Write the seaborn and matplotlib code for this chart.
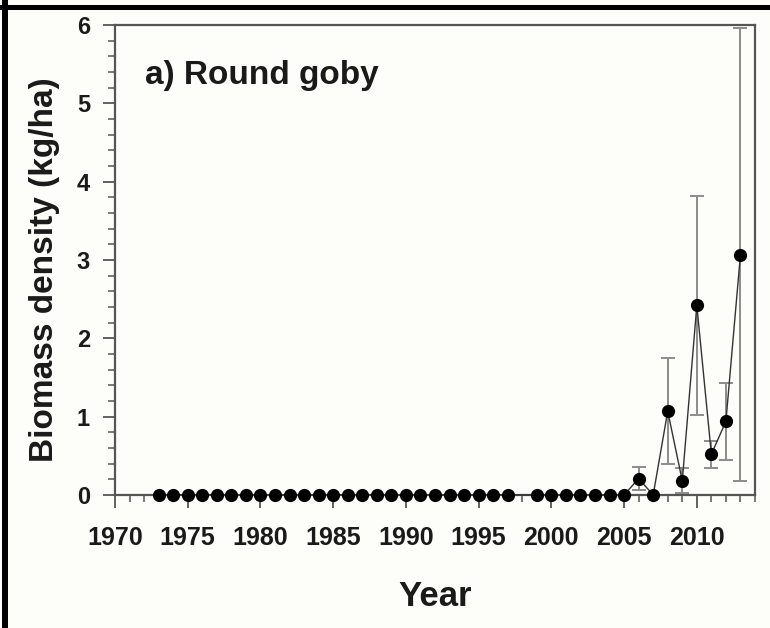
import matplotlib
matplotlib.use("Agg")
import matplotlib.pyplot as plt
from matplotlib.lines import Line2D
from matplotlib.ticker import MultipleLocator
import seaborn as sns
import pandas as pd

# survey years (1998 missing)
years = [1973, 1974, 1975, 1976, 1977, 1978, 1979, 1980, 1981, 1982,
         1983, 1984, 1985, 1986, 1987, 1988, 1989, 1990, 1991, 1992,
         1993, 1994, 1995, 1996, 1997,
         1999, 2000, 2001, 2002, 2003, 2004, 2005, 2006, 2007, 2008,
         2009, 2010, 2011, 2012, 2013]
# round goby biomass density, kg/ha
biomass = [0, 0, 0, 0, 0, 0, 0, 0, 0, 0,
           0, 0, 0, 0, 0, 0, 0, 0, 0, 0,
           0, 0, 0, 0, 0,
           0, 0, 0, 0, 0, 0, 0, 0.21, 0, 1.07,
           0.18, 2.42, 0.52, 0.94, 3.07]
# error bar half-widths
biomass_err = [0, 0, 0, 0, 0, 0, 0, 0, 0, 0,
               0, 0, 0, 0, 0, 0, 0, 0, 0, 0,
               0, 0, 0, 0, 0,
               0, 0, 0, 0, 0, 0, 0, 0.145, 0, 0.68,
               0.16, 1.40, 0.17, 0.49, 2.89]

panel_label = "a) Round goby"
x_label = "Year"
y_label = "Biomass density (kg/ha)"


def main():
    sns.set_style("ticks")
    plt.rcParams['font.family'] = ['Liberation Sans', 'DejaVu Sans']
    plt.rcParams['font.weight'] = 'bold'

    bg = '#fdfdf9'
    axcol = '#555555'

    df = pd.DataFrame({'year': years, 'biomass': biomass, 'err': biomass_err})

    fig = plt.figure(figsize=(7.7, 6.28), dpi=100, facecolor=bg)
    ax = fig.add_axes([115 / 770, 1 - 495 / 628, 640 / 770, 470 / 628])
    ax.set_facecolor(bg)

    # error bars only where there is spread
    eb = df[df.err > 0]
    ax.errorbar(eb.year, eb.biomass, yerr=eb.err, fmt='none', ecolor='#8c8c8c',
                elinewidth=1.4, capsize=5, capthick=1.4, zorder=2)

    sns.lineplot(data=df, x='year', y='biomass', estimator=None, color='#333333',
                 lw=1.0, marker='o', markersize=9.5, markeredgewidth=0,
                 markerfacecolor='black', ax=ax, zorder=3, clip_on=False)

    ax.set_xlim(1970, 2014)
    ax.set_ylim(0, 6)
    ax.set_xticks([1970, 1975, 1980, 1985, 1990, 1995, 2000, 2005, 2010])
    ax.xaxis.set_minor_locator(MultipleLocator(1))
    ax.yaxis.set_major_locator(MultipleLocator(1))
    ax.yaxis.set_minor_locator(MultipleLocator(0.2))

    ax.tick_params(which='major', direction='out', length=9, width=1.3, color=axcol)
    ax.tick_params(which='minor', direction='out', length=5, width=1.1, color=axcol)
    ax.tick_params(axis='x', which='major', pad=13, labelsize=18)
    ax.tick_params(axis='y', which='major', pad=9, labelsize=17)
    for lab in ax.get_xticklabels() + ax.get_yticklabels():
        lab.set_fontweight('bold')
        lab.set_color('#1a1a1a')

    for sp in ax.spines.values():
        sp.set_visible(True)
        sp.set_color(axcol)
        sp.set_linewidth(1.6)

    ax.set_xlabel(x_label, fontsize=25, fontweight='bold', color='#1a1a1a')
    ax.set_ylabel(y_label, fontsize=24, fontweight='bold', color='#1a1a1a')
    ax.xaxis.label.set_va('center')
    ax.yaxis.label.set_va('center')
    ax.xaxis.set_label_coords(0.5, -102 / 470)
    ax.yaxis.set_label_coords(-70 / 640, 0.479)

    ax.text(30 / 640, 0.893, panel_label, transform=ax.transAxes, fontsize=24,
            fontweight='bold', color='#1a1a1a', va='center', ha='left')

    # black frame pieces on the left and top edge of the image
    fig.add_artist(Line2D([5 / 770, 5 / 770], [0, 1], transform=fig.transFigure,
                          color='black', lw=4.3))
    fig.add_artist(Line2D([0, 1], [1 - 6.5 / 628, 1 - 6.5 / 628], transform=fig.transFigure,
                          color='black', lw=3.6))

    fig.savefig('out.png', dpi=100, facecolor=bg)


if __name__ == '__main__':
    main()
